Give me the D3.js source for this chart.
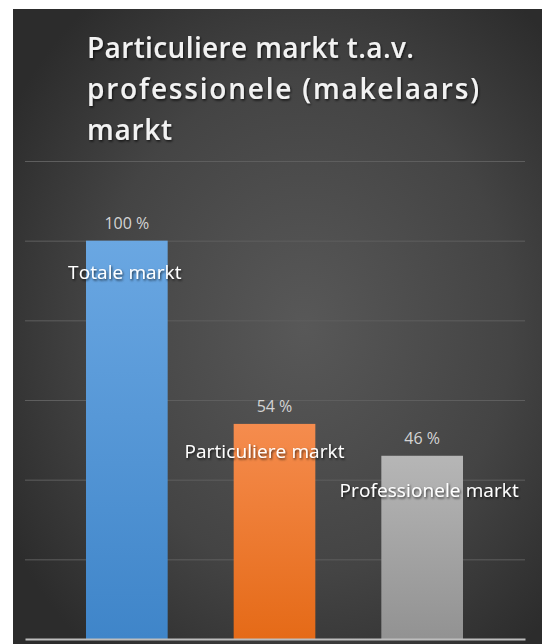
<!DOCTYPE html>
<html>
<head>
<meta charset="utf-8">
<script src="https://cdn.jsdelivr.net/npm/d3@7"></script>
<style>
  html, body { margin: 0; padding: 0; background: #ffffff; }
  svg { display: block; }
</style>
</head>
<body>
<svg id="chart" width="547" height="644"></svg>
<script>
const titleLines = ["Particuliere markt t.a.v.", "professionele (makelaars)", "markt"];
const categories = ["Totale markt", "Particuliere markt", "Professionele markt"];
const values = [100, 54, 46];
const valueLabels = ["100 %", "54 %", "46 %"];
const yTicks = [0, 20, 40, 60, 80, 100, 120];
const barColors = [["#6aa7e2", "#3f85c9"], ["#f58c4e", "#e56a17"], ["#b6b6b6", "#929292"]];

// layout constants
const titleWidths = [327, 392, 85];
const labelDx = [-2, -10, 7];
const labelDy = [38, 34, 41];

const W = 547, H = 644;
const svg = d3.select("#chart");
const defs = svg.append("defs");

const bg = defs.append("radialGradient").attr("id", "bg")
  .attr("cx", "0.55").attr("cy", "0.5").attr("r", "0.65");
bg.append("stop").attr("offset", "0").attr("stop-color", "#585858");
bg.append("stop").attr("offset", "0.6").attr("stop-color", "#444444");
bg.append("stop").attr("offset", "1").attr("stop-color", "#2c2c2c");

barColors.forEach((c, i) => {
  const g = defs.append("linearGradient").attr("id", "bar" + i)
    .attr("x1", 0).attr("y1", 0).attr("x2", 0).attr("y2", 1);
  g.append("stop").attr("offset", 0).attr("stop-color", c[0]);
  g.append("stop").attr("offset", 1).attr("stop-color", c[1]);
});

const sh = defs.append("filter").attr("id", "shadow")
  .attr("x", "-10%").attr("y", "-20%").attr("width", "120%").attr("height", "150%");
sh.append("feDropShadow").attr("dx", 1).attr("dy", 1.5).attr("stdDeviation", 1.2)
  .attr("flood-color", "#000").attr("flood-opacity", 0.7);

svg.append("rect").attr("x", 13).attr("y", 9).attr("width", 529).attr("height", H - 9)
  .attr("fill", "url(#bg)");

const plot = { left: 25, right: 525, top: 161, bottom: 639 };
const y = d3.scaleLinear().domain([0, 120]).range([plot.bottom, plot.top]);
const x = d3.scaleBand().domain(categories).range([53, 496])
  .paddingInner(0.447).paddingOuter(0.2235);

const grid = d3.axisLeft(y).tickValues(yTicks.filter(t => t > 0))
  .tickSize(-(plot.right - plot.left)).tickFormat("");
const gg = svg.append("g").attr("transform", `translate(${plot.left},0)`).call(grid);
gg.select(".domain").remove();
gg.selectAll("line").attr("stroke", "#5e5e5e").attr("stroke-width", 1);

svg.append("g").selectAll("rect").data(categories).join("rect")
  .attr("x", d => x(d))
  .attr("width", x.bandwidth())
  .attr("y", (d, i) => y(values[i]))
  .attr("height", (d, i) => y(0) - y(values[i]))
  .attr("fill", (d, i) => `url(#bar${i})`);

const xa = d3.axisBottom(d3.scaleLinear().range([plot.left, plot.right])).tickValues([]).tickSizeOuter(0);
const xg = svg.append("g").attr("transform", `translate(0,${plot.bottom})`).call(xa);
xg.select(".domain").attr("stroke", "#bdbdbd").attr("stroke-width", 2);

svg.append("g").selectAll("text").data(categories).join("text")
  .attr("x", d => x(d) + x.bandwidth() / 2)
  .attr("y", (d, i) => y(values[i]) - 12)
  .attr("text-anchor", "middle")
  .attr("font-family", "'Open Sans', sans-serif")
  .attr("font-size", 16)
  .attr("fill", "#d4d4d4")
  .text((d, i) => valueLabels[i]);

svg.append("g").selectAll("text").data(categories).join("text")
  .attr("x", (d, i) => x(d) + x.bandwidth() / 2 + labelDx[i])
  .attr("y", (d, i) => y(values[i]) + labelDy[i])
  .attr("text-anchor", "middle")
  .attr("font-family", "'Open Sans', sans-serif")
  .attr("font-size", 19)
  .attr("letter-spacing", 0.1)
  .attr("fill", "#ffffff")
  .attr("filter", "url(#shadow)")
  .text(d => d);

svg.append("g").selectAll("text").data(titleLines).join("text")
  .attr("x", 87)
  .attr("y", (d, i) => 58 + i * 41)
  .attr("font-family", "'Open Sans', sans-serif")
  .attr("font-weight", 600)
  .attr("font-size", 28)
  .attr("textLength", (d, i) => titleWidths[i])
  .attr("lengthAdjust", "spacing")
  .attr("fill", "#f2f2f2")
  .attr("filter", "url(#shadow)")
  .text(d => d);
</script>
</body>
</html>
